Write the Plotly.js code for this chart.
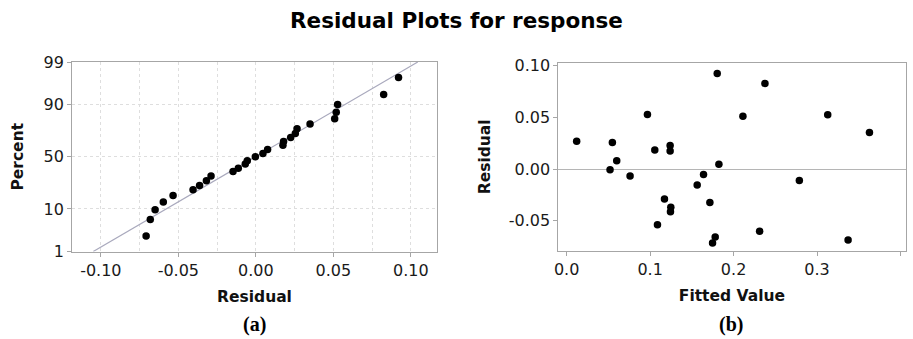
<!DOCTYPE html>
<html>
<head>
<meta charset="utf-8">
<script src="https://cdn.plot.ly/plotly-3.0.1.min.js"></script>
<style>html,body{margin:0;padding:0;background:#fff;}#chart{width:913px;height:339px;}</style>
</head>
<body>
<div id="chart"></div>
<script>
// ---- Data ----
// (a) Normal probability plot: residuals and their percent positions
const probResidual = [-0.0708, -0.0681, -0.0650, -0.0597, -0.0534, -0.0405, -0.0363, -0.0319, -0.0289,
  -0.0147, -0.0113, -0.0068, -0.0055, -0.0003, 0.0046, 0.0076, 0.0175, 0.0179, 0.0225, 0.0255,
  0.0266, 0.0350, 0.0509, 0.0519, 0.0528, 0.0825, 0.0921];
const probPercent = [2.6, 6.2, 9.7, 13.3, 17.1, 20.9, 24.0, 27.7, 31.9, 35.8, 38.8, 42.9, 46.1, 50.0,
  53.2, 57.1, 61.2, 64.5, 68.1, 71.5, 75.5, 78.9, 82.5, 86.3, 90.0, 93.7, 97.4];
// (b) Residual versus fitted value
const fittedValue = [0.012, 0.0548, 0.060, 0.052, 0.076, 0.0968, 0.1056, 0.124, 0.124, 0.1172, 0.1248,
  0.1244, 0.1088, 0.1804, 0.1824, 0.164, 0.1564, 0.1716, 0.178, 0.1748, 0.2112, 0.2376, 0.2312,
  0.2788, 0.3128, 0.3628, 0.3372];
const fittedResidual = [0.0268, 0.0255, 0.0081, -0.0006, -0.0068, 0.0526, 0.0184, 0.0226, 0.0174, -0.029,
  -0.0368, -0.0413, -0.0539, 0.0923, 0.0045, -0.0052, -0.0155, -0.0323, -0.0655, -0.0713, 0.051,
  0.0826, -0.060, -0.011, 0.0523, 0.0352, -0.0684];
// Tick labels
const percentTicks = [1, 10, 50, 90, 99];
const percentTickText = ["1", "10", "50", "90", "99"];
const residTickVals = [-0.10, -0.05, 0.00, 0.05, 0.10];
const residTickText = ["-0.10", "-0.05", "0.00", "0.05", "0.10"];
const residMinorVals = [-0.075, -0.025, 0.025, 0.075];
const fittedTickVals = [0.0, 0.1, 0.2, 0.3, 0.4];
const fittedTickText = ["0.0", "0.1", "0.2", "0.3", "0.4"];
const resYTickVals = [-0.05, 0.00, 0.05, 0.10];
const resYTickText = ["-0.05", "0.00", "0.05", "0.10"];

// Inverse standard normal CDF (probability-scale transform)
function probit(p) {
  const a=[-3.969683028665376e+01,2.209460984245205e+02,-2.759285104469687e+02,1.383577518672690e+02,-3.066479806614716e+01,2.506628277459239e+00];
  const b=[-5.447609879822406e+01,1.615858368580409e+02,-1.556989798598866e+02,6.680131188771972e+01,-1.328068155288572e+01];
  const c=[-7.784894002430293e-03,-3.223964580411365e-01,-2.400758277161838e+00,-2.549671010243197e+00,4.374664141464968e+00,2.938163982698783e+00];
  const d=[7.784695709041462e-03,3.224671290700398e-01,2.445134137142996e+00,3.754408661907416e+00];
  const pl=0.02425, ph=1-pl; let q, r;
  if (p < pl) { q=Math.sqrt(-2*Math.log(p)); return (((((c[0]*q+c[1])*q+c[2])*q+c[3])*q+c[4])*q+c[5])/((((d[0]*q+d[1])*q+d[2])*q+d[3])*q+1); }
  if (p > ph) { q=Math.sqrt(-2*Math.log(1-p)); return -(((((c[0]*q+c[1])*q+c[2])*q+c[3])*q+c[4])*q+c[5])/((((d[0]*q+d[1])*q+d[2])*q+d[3])*q+1); }
  q=p-0.5; r=q*q;
  return (((((a[0]*r+a[1])*r+a[2])*r+a[3])*r+a[4])*r+a[5])*q/(((((b[0]*r+b[1])*r+b[2])*r+b[3])*r+b[4])*r+1);
}
const zOf = pc => probit(pc / 100);

// fitted normal line from residual mean and standard deviation
const n = probResidual.length;
const mean = probResidual.reduce((s, v) => s + v, 0) / n;
const sd = Math.sqrt(probResidual.reduce((s, v) => s + (v - mean) ** 2, 0) / (n - 1));
const zLo = zOf(percentTicks[0]), zHi = zOf(percentTicks[percentTicks.length - 1]);

const fontFam = "DejaVu Sans, Verdana, sans-serif";
const tickFont = {family: fontFam, size: 16, color: "#1a1a1a"};
const axTitleFont = {family: fontFam, size: 15.5, color: "#111", weight: "bold"};
const axLine = "#a6a6a6";
const gridCol = "#dedede";

const traces = [
  {x: [mean + sd * zLo, mean + sd * zHi], y: [zLo, zHi], mode: "lines", xaxis: "x", yaxis: "y",
   line: {color: "#a9a9bd", width: 1.2}, hoverinfo: "skip"},
  {x: probResidual, y: probPercent.map(zOf), mode: "markers", xaxis: "x", yaxis: "y",
   marker: {color: "#000", size: 7.5}},
  {x: fittedValue, y: fittedResidual, mode: "markers", xaxis: "x2", yaxis: "y2",
   marker: {color: "#000", size: 7.5}}
];

const layout = {
  width: 913, height: 339,
  margin: {l: 0, r: 0, t: 0, b: 0},
  paper_bgcolor: "#fff", plot_bgcolor: "#fff",
  showlegend: false,
  title: {text: "<b>Residual Plots for response</b>", font: {family: fontFam, size: 21.5, color: "#000"},
          x: 0.5, xanchor: "center", y: 0.939, yanchor: "middle"},
  xaxis: {domain: [0.0789, 0.4786], range: [-0.1186, 0.1169], tickmode: "array",
    tickvals: residTickVals, ticktext: residTickText, tickfont: tickFont,
    showgrid: true, gridcolor: gridCol, griddash: "dot", gridwidth: 1,
    minor: {tickmode: "array", tickvals: residMinorVals, showgrid: true, gridcolor: gridCol, griddash: "dot", ticks: ""},
    ticks: "outside", ticklen: 4, tickcolor: axLine, showline: true, linecolor: axLine, mirror: true,
    zeroline: false, automargin: false,
    title: {text: "Residual", font: axTitleFont, standoff: 12}},
  yaxis: {domain: [0.2581, 0.8171], range: [zLo, zHi], tickmode: "array",
    tickvals: percentTicks.map(zOf), ticktext: percentTickText, tickfont: tickFont,
    showgrid: true, gridcolor: gridCol, griddash: "dot",
    ticks: "outside", ticklen: 4, tickcolor: axLine, showline: true, linecolor: axLine, mirror: true,
    zeroline: false, automargin: false,
    title: {text: "Percent", font: axTitleFont, standoff: 16}},
  xaxis2: {domain: [0.6115, 0.9918], range: [-0.01, 0.406], anchor: "y2", tickmode: "array",
    tickvals: fittedTickVals, ticktext: fittedTickText, tickfont: tickFont, showgrid: false,
    ticks: "outside", ticklen: 4, tickcolor: axLine, showline: true, linecolor: axLine, mirror: true,
    zeroline: false, automargin: false,
    title: {text: "Fitted Value", font: axTitleFont, standoff: 12}},
  yaxis2: {domain: [0.2600, 0.8150], range: [-0.079, 0.1026], anchor: "x2", tickmode: "array",
    tickvals: resYTickVals, ticktext: resYTickText, tickfont: tickFont, showgrid: false,
    ticks: "outside", ticklen: 4, tickcolor: axLine, showline: true, linecolor: axLine, mirror: true,
    zeroline: true, zerolinecolor: "#b5b5b5", zerolinewidth: 1, automargin: false,
    title: {text: "Residual", font: axTitleFont, standoff: 14}},
  annotations: [
    {text: "<b>(a)</b>", x: 0.2788, y: 0.0442, xref: "paper", yref: "paper", xanchor: "center", yanchor: "middle",
     showarrow: false, font: {family: "Liberation Serif, Times New Roman, serif", size: 20, color: "#000"}},
    {text: "<b>(b)</b>", x: 0.8012, y: 0.0442, xref: "paper", yref: "paper", xanchor: "center", yanchor: "middle",
     showarrow: false, font: {family: "Liberation Serif, Times New Roman, serif", size: 20, color: "#000"}}
  ]
};

Plotly.newPlot("chart", traces, layout, {staticPlot: true, displayModeBar: false});
</script>
</body>
</html>
